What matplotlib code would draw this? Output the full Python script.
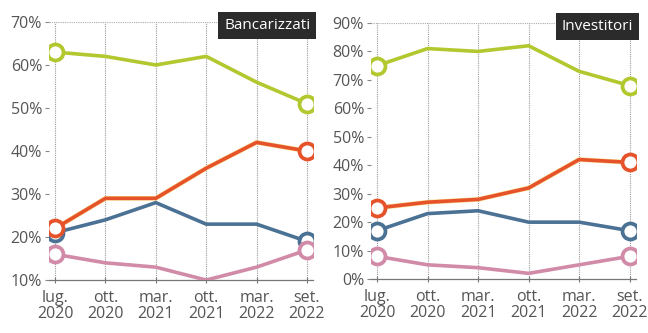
import matplotlib.pyplot as plt

plt.rcParams['font.family'] = ['Open Sans', 'DejaVu Sans']

periods = ["lug.\n2020", "ott.\n2020", "mar.\n2021", "ott.\n2021", "mar.\n2022", "set.\n2022"]

# Bancarizzati (%)
banc_green = [63, 62, 60, 62, 56, 51]
banc_red = [22, 29, 29, 36, 42, 40]
banc_blue = [21, 24, 28, 23, 23, 19]
banc_pink = [16, 14, 13, 10, 13, 17]

# Investitori (%)
inv_green = [75, 81, 80, 82, 73, 68]
inv_red = [25, 27, 28, 32, 42, 41]
inv_blue = [17, 23, 24, 20, 20, 17]
inv_pink = [8, 5, 4, 2, 5, 8]

GREEN = "#b3c72f"
RED = "#e6532b"
BLUE = "#4b7294"
PINK = "#d18aa8"
TEXT = "#555555"


def panel(ax, series, ylo, yhi, title):
    x = range(len(periods))
    for vals, col in series:
        if col == RED:
            # faint yellow fringe under the red line
            ax.plot(x, vals, color="#f2c94a", lw=3.4, alpha=0.6,
                    solid_capstyle="round", zorder=2)
        ax.plot(x, vals, color=col, lw=2.6, solid_joinstyle="round",
                marker="o", markevery=[0, len(vals) - 1], ms=11.5,
                mfc="white", mec=col, mew=2.7, zorder=3)
    ax.set_xlim(-0.12, 5.12)
    ax.set_ylim(ylo, yhi)
    ax.set_yticks(range(ylo, yhi + 1, 10))
    ax.set_yticklabels([f"{v}%" for v in range(ylo, yhi + 1, 10)])
    ax.set_xticks(list(x))
    ax.set_xticklabels(periods, linespacing=1.05)
    for xi in x:
        ax.axvline(xi, color="#999999", lw=0.8, ls=(0, (1, 1)), zorder=1)
    ax.axhline(yhi, color="#aaaaaa", lw=0.8, ls=(0, (1, 1)), zorder=1)
    for s in ["top", "right", "left"]:
        ax.spines[s].set_visible(False)
    ax.spines["bottom"].set_color("#777777")
    ax.spines["bottom"].set_linewidth(0.9)
    ax.tick_params(axis="x", length=4, direction="inout", color="#777777",
                   labelsize=11.5, labelcolor=TEXT, pad=5)
    ax.tick_params(axis="y", length=3, color="#888888", labelsize=11.5,
                   labelcolor=TEXT, pad=2)
    ax.text(0.99, 0.985, title, transform=ax.transAxes, ha="right",
            va="center", color="white", fontsize=11,
            bbox=dict(boxstyle="square,pad=0.4", fc="#2b2b2b", ec="none"))


fig = plt.figure(figsize=(6.48, 3.33), dpi=100)
ax1 = fig.add_axes([0.0756, 0.159, 0.4074, 0.775])
ax2 = fig.add_axes([0.5725, 0.162, 0.4085, 0.769])

# draw order: green, blue, pink, then red on top
panel(ax1, [(banc_green, GREEN), (banc_blue, BLUE), (banc_pink, PINK),
            (banc_red, RED)], 10, 70, "Bancarizzati")
panel(ax2, [(inv_green, GREEN), (inv_blue, BLUE), (inv_pink, PINK),
            (inv_red, RED)], 0, 90, "Investitori")

fig.savefig("out.png", dpi=100)
